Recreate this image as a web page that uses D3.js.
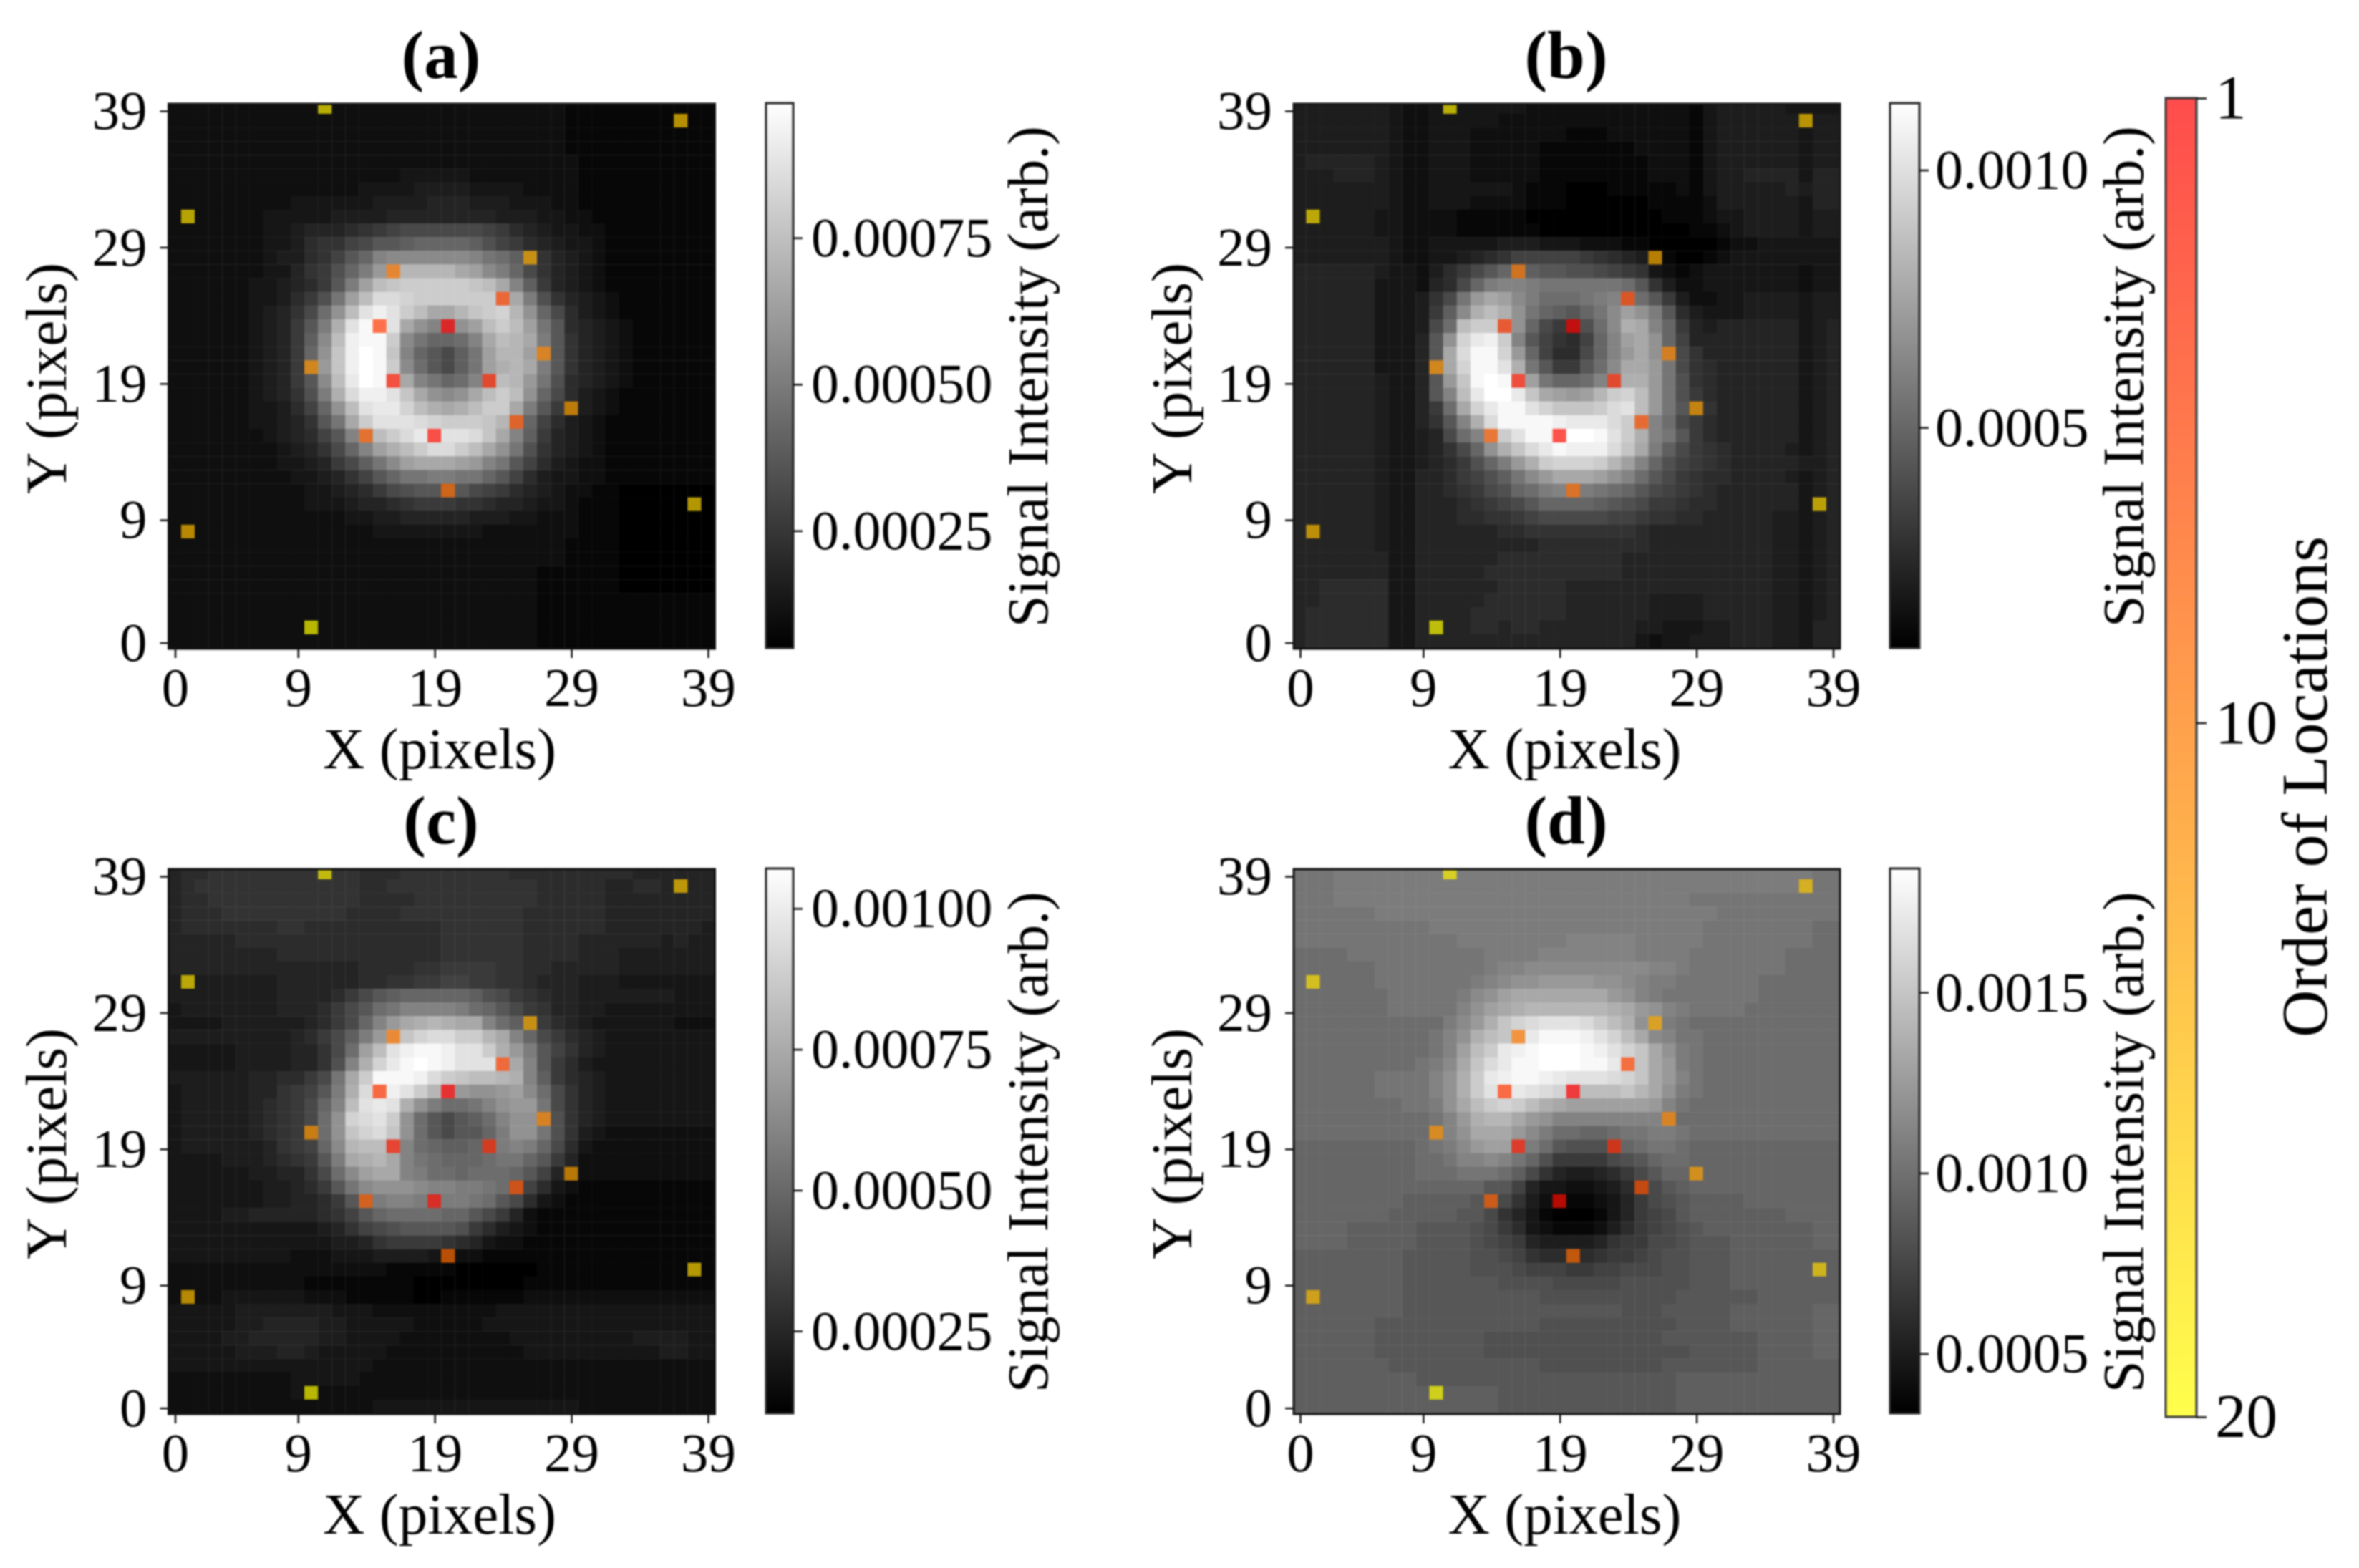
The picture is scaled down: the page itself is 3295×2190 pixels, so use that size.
<!DOCTYPE html>
<html>
<head>
<meta charset="utf-8">
<title>Signal intensity maps</title>
<script src="https://cdn.jsdelivr.net/npm/d3@7"></script>
<style>
  html, body { margin: 0; padding: 0; background: #fff; }
  svg { display: block; filter: blur(0.8px); }
</style>
</head>
<body>
<div id="chart"></div>
<script>
// Grey maps, one string per row, top row (39) first.
// Each character is a base 36 level between the panel's colour min and max.
let gridA = [
"2222222222 2222222222 2222222221 1111111111",
"2222222222 2222222222 2222222221 1111111111",
"2222222222 2222222222 2222222221 1111111111",
"2222222222 2222222222 2222222221 1111111111",
"2222222222 2222222222 2222222222 1111111111",
"2222222222 2222222333 3322222222 1111111111",
"2222222222 2222333344 4433332222 1111111111",
"2222222223 3333344445 5544433322 1111111111",
"2222222333 3344445555 5555444332 2111111111",
"2222222334 5556789aaa aaa9865433 2211111111",
"2222222334 6779accdee eedb986543 3211111111",
"2222222344 679ceijjjj jjigfda754 3211111111",
"2222222335 78behlnppp pnmjhea754 3211111111",
"2222223345 68chmqrsss ssrqnid854 3211111111",
"2222223346 8bgmquutss ssssqnhb75 4321111111",
"2222223457 afkqvxvsqn nprstpkea6 4321111111",
"2222223458 chovyyvnki ikmqsqmgc6 5432111111",
"2222223458 djqxyysjge efinqpnhc7 5432111111",
"2222223458 ekrxzyriec adgmppmhc7 5432111111",
"2222223458 elrxzysjfc adgmopnhc7 5432111111",
"2222223458 cjqwzytnig efilqplgb6 5432111111",
"2222223457 bhouxxvrnk jknqsqkea6 4321111111",
"2222223346 9ekqvwwtqo noqssnhc85 4321111111",
"2222223345 7cgnsvvvut sssrpke964 3211111111",
"2222222345 69cimqsuww vvurnid854 3211111111",
"2222222234 57aeimoqsu usqnkgb754 3211111111",
"2222222233 458adgjmnn nmligc9643 2211111111",
"2222222223 34579ceggh hggec96433 2211111111",
"2222222222 334568abcc cca9865432 2110000000",
"2222222222 3334556788 8776554332 1110000000",
"2222222222 2223344555 5544433222 1110000000",
"2222222222 2222233333 3332222222 1110000000",
"2222222222 2222222222 2222222221 1110000000",
"2222222222 2222222222 2222222221 1110000000",
"2222222222 2222222222 2222222111 1110000000",
"2222222222 2222222222 2222222111 1110000000",
"2222222222 2222222222 2222222111 1111111111",
"2222222222 2222222222 2222222111 1111111111",
"2222222222 2222222222 2222222111 1111111111",
"2222222222 2222222222 2222222111 1111111111"
];

let gridB = [
"4444444322 3333333222 2222222221 3444443333",
"4444444322 3333322222 2222222221 3444444344",
"4444444322 3332222222 1112222221 3444444344",
"4444444322 3332222211 1111122221 3444444344",
"4555554322 3332222211 1111112221 3444444344",
"4445554322 3332222211 1111112221 3445555355",
"4444444322 3333332111 0001111121 3444445455",
"4444444322 3332222111 0000001111 2444444355",
"4444443322 2211111000 0000000111 2334444344",
"4444443322 2211111100 0000000001 1234444344",
"4444444322 3333344433 3222110000 0122333333",
"4444444322 3345679999 9876542100 1233333333",
"5555554332 468aceedcc bba9873212 3333333233",
"5555553332 56aehiihgg ggggfc7422 3333333233",
"5555553334 7aglnmjhff fghiifc842 2334444344",
"5555553334 8djoqokged cegjmkhc64 3334444344",
"5555553334 afqssokea8 7bfjonie85 4555555345",
"5555553335 cktwxsic97 69eimnke95 5555555345",
"5555553335 cnuyytle96 6aeilnkfa7 5555555345",
"5555553335 entyyvogc8 8cfjnnlga7 6555555345",
"5555554335 clryzyrmge efiloolgb7 6555555345",
"5555554335 ciqwzzwrnm lmpstqlgb8 6555555345",
"5555554335 8fntwyyvtr rrsuvqlgc8 7555555345",
"5555554335 7ciouyyyyx wwwusnifa8 6555555345",
"5555554334 5afipsvyyy zzyvsoigc8 6555555345",
"5555554334 57aekoruwy xxxurnhda8 7655554345",
"5555554334 568behlost ttspmieb98 7655555445",
"5555554335 5689bdgjln nnmkifca87 6655554345",
"5555554335 5678abefhi ihgfeca987 6555555345",
"5555554335 556789acee eedcba8876 6555555345",
"5555554335 55667789aa aaa9987766 5555544345",
"5555554335 5555566777 7777765555 5555544345",
"5555554335 5555555566 6666665555 5555544345",
"5555555335 5555566666 6666555555 5555544345",
"5555555335 5555666666 6666555555 5555544345",
"5566666335 5555566666 5555555555 5555544345",
"5566666335 5555666666 5555554444 5555544345",
"5666666335 5556666666 5555554444 5555544345",
"5666666335 5556656655 5555544333 4455544355",
"5666666335 5555555555 5555532334 4455544355"
];

let gridC = [
"5667777777 7777666777 7777766666 6666555555",
"5677777777 7777667777 7777777666 6655665555",
"5667777777 7777666677 7777777666 6655555555",
"5666777777 7776666777 7777776666 6655555555",
"5666666677 6666666666 7777776666 6655555554",
"5555566666 6666666666 7777776666 5555554544",
"5555555566 6666666666 7777776666 5554444444",
"5555555555 5555666677 8888776655 5554444444",
"4444444455 5555667788 9988776555 4443333333",
"4444444455 5568acdeee eedba87655 4444444333",
"3444444455 568acfgiii ihfeca8755 4433333333",
"3333444444 568aeilnop onnifda865 4333333222",
"4444444445 68adhlprtu usspniea86 5433333333",
"3333344445 57afmqvxyy xvvsolhc97 5433333333",
"3333344445 57biotwyzy xvvvrnic86 4333333333",
"4444445566 8agnsyyyxu srqqpoid86 5433333333",
"3444445578 9chouvxvsp nlkklmjfa7 5433333333",
"3444445678 aeiqvwvokh ffgikllga7 5433333333",
"3444445678 afktuvskfc acdfikkgb7 5433333333",
"3444445678 afkrturkfc accehkkgb7 4322222222",
"3444444578 9ejpqqnife ddefhihea6 3222222222",
"3333444567 8chnopnigf eeefggec85 2222222222",
"3333334455 7afjmnnihf fefffec953 2222222222",
"3333333445 68cgjkkkji ihhgfc9632 1111111111",
"3333333445 568cfhiihh hhgfca6321 1111111111",
"3333445555 5679ceffff eeca852111 1111111111",
"3333333333 34579abccc cb86432111 1111111111",
"3333333333 3344578888 7653221111 1111111111",
"3333333332 2233344443 2221111111 1111111111",
"2222222222 2222221111 1000000111 1111111111",
"2222222222 1111111100 0000001111 1111111111",
"2222333333 2221111100 1111112222 2222222222",
"3333344444 4433322222 2222333333 3333333333",
"3333344555 5443333322 2223333333 3333333333",
"3333445555 5443333222 2222233333 3333444433",
"3333344455 4333332222 2222223333 3333334433",
"3333333333 3333322222 2222222222 2222222222",
"2222222223 3333222222 2222222222 2222222222",
"2222222223 2222222222 2222222222 2222222222",
"2222222222 2222233333 3333333333 2222222222"
];

let gridD = [
"ggghhhhhhh hhhhhhhhhh hhhhhhhhhh hhhhhhhhgg",
"ggghhhhhhh hhhhhhhhhh hhhhhhhhhh hhhhhhhggg",
"ggghhhhhhh hhhhhhhhhh hhhhhhhhhg gggggggggg",
"gggggghhhh hhhhhhhhhh hhhhhhhhhh hggggggggg",
"gggggggggg hhhhhhhhhh hhhhhhhhhh ggggggggff",
"gggggggggg gghhhhhhhh iiiiihhhhh ggggggggff",
"ffffgggggg gggghhhhii iiiiihhhhg ggggggffff",
"ffffffgggg gggghiijjj jjjjjjiihg ggggggffff",
"ffffffgggg ggghijkkll llkkjihhgg ggggffffff",
"fffffffggg gghjkmnnnn nnnlkihggg ggggffffff",
"fffffffggg ggikmnoppp ppponlkihg gggfffffff",
"ffffffffff fhjlortuvv vusqokihgf ffffffffff",
"ffffffffff gikoqrtwyy yxvtqnjigg ffffffffff",
"ffffffffff gimqswxyzz zyxvtrnkhg ffffffffff",
"fffffffffg hjnruwyyzz zyywurnlhg ffffffffff",
"ffffffgggg ikoswxyyxw vvvutrnlig ffffffffff",
"ffffffgggg ikosvwwvut rqqqrpnkhg ffffffffff",
"ffffffffgg hknqstsqon mmmmmmligf ffffffffff",
"ffffffffff giloppnlki iiiiiiihff ffffffffff",
"ffffffffff giknnnljhf feefgghhgf ffffffffff",
"eeeeeeeeef ghjlmmjhfc bbbcefggfe eeeeeeeeee",
"eeeeeeeeef fgiijigeb8 888abceffe eeeeeeeeee",
"eeeeeeeeef ffgggfda75 44568aceee eeeeeeeeee",
"eeeeeeeeee eeeecc9533 223468acde eeeeeeeeee",
"eeeeeeeedd dddcca7421 112358abcd dddeeeeeee",
"eeeeeeeddd ddcca75310 0013589acd ddddddeeee",
"eeeedddddc cccba86321 1124689abc ddddddddee",
"eeeedddddc cccba98544 445788aabc ccddddddee",
"ddddddddcc cccbba9766 667889abbc ccdddddddd",
"ddddddddcc cccbbba999 8899aaabbc ccdddddddd",
"ddddddddcc cccccbbbba aaaabbbbbc ccdddddddd",
"ddddddddcc ccccccccbb bbbbbbbbcc ccccdddddd",
"ddddddddcc cccccccccc ccccbbbccc ccddddddee",
"ddddddcccc ccccccccbb bbbbbbbbcc ccddddddee",
"ddddddcccc ccccbbbbbb bbbbbbbccc ccccddddee",
"ddddddcccc ccccbbbbbb bbbbbbbbbc ccccddddee",
"dddddddccc ccccccccbb bbbbbbbccc ccccdddddd",
"dddddddddc cccccccccc ccccccccdd dddddddddd",
"dddddddddd dddddccccc ccccccccdd dddddddddd",
"dddddddddd dddddccccc ccccccccdd dddddddddd"
];

// Panel titles and colour ranges
let panelNames = ["(a)", "(b)", "(c)", "(d)"];
let colorMin = [0.00005, 0.000072, 0.000104, 0.000335];
let colorMax = [0.00098, 0.00113, 0.001071, 0.001843];
let colorTicks = [
    [0.00025, 0.0005, 0.00075],
    [0.0005, 0.001],
    [0.00025, 0.0005, 0.00075, 0.001],
    [0.0005, 0.001, 0.0015]
];
let colorTickFormats = [".5f", ".4f", ".5f", ".4f"];

// Scanned locations, in visiting order (same for all panels)
let locationCol = [20, 19, 16, 23, 15, 24, 25, 14, 20, 16, 27, 10, 29, 26, 1, 37, 38, 1, 11, 10];
let locationRow = [23, 15, 19, 19, 23, 25, 16, 15, 11, 27, 21, 20, 17, 28, 8, 38, 10, 31, 39, 1];

let axisTicks = [0, 9, 19, 29, 39];
let orderTicks = [1, 10, 20];

//*************************************************************************************
//PAGE AND SHARED SCALES

let fontName = "'Liberation Serif', 'Times New Roman', serif";

let svg = d3.select("#chart").append("svg")
    .attr("width", 3295)
    .attr("height", 2190);

let defs = svg.append("defs");

let plotW = 763;
let plotH = 761;
let plotLeft = [235.5, 1807, 235.5, 1807];
let plotTop = [145, 145, 1214, 1214];

let barLeft = [1070, 2640, 1070, 2640];
let barWidth = [38, 41, 38, 41];
let barPad = [12, 9, 12, 9];
let barLabelX = [1463, 2993, 1463, 2993];

// Cells run a little past the frame at the top, so they get their own scales
let cellX = d3.scaleLinear().domain([-0.5, 39.5]).range([-1.7, 763.1]);
let cellY = d3.scaleLinear().domain([-0.5, 39.5]).range([760, -5.2]);

let tickX = d3.scaleLinear().domain([0, 39]).range([9, 753.5]);
let tickY = d3.scaleLinear().domain([0, 39]).range([752.6, 10]);

let orderColor = d3.scaleLinear().domain([1, 20]).range(["#ff0000", "#ffff00"]);

function styleAxis(g, size) {
    g.select(".domain").remove();
    g.selectAll("line").attr("stroke", "#111").attr("stroke-width", 2.5);
    g.selectAll("text")
        .attr("fill", "#000")
        .attr("font-family", fontName)
        .attr("font-size", size);
}

//*************************************************************************************
//THE FOUR HEATMAPS

let grids = [gridA, gridB, gridC, gridD];

grids.forEach(function (grid, p) {

    let g = svg.append("g")
        .attr("transform", "translate(" + plotLeft[p] + "," + plotTop[p] + ")");

    let color = d3.scaleLinear()
        .domain([colorMin[p], colorMax[p]])
        .range(["#000000", "#ffffff"]);

    // Turn the level strings into cell values
    let cells = [];
    grid.forEach(function (line, i) {
        let chars = line.replace(/ /g, "");
        for (let c = 0; c < chars.length; c++) {
            let level = parseInt(chars[c], 36) / 35;
            cells.push({
                col: c,
                row: 39 - i,
                value: colorMin[p] + level * (colorMax[p] - colorMin[p])
            });
        }
    });

    defs.append("clipPath").attr("id", "clip" + p)
        .append("rect").attr("width", plotW).attr("height", plotH);

    let image = g.append("g").attr("clip-path", "url(#clip" + p + ")");

    image.selectAll(".cell")
        .data(cells)
        .enter()
        .append("rect")
        .attr("class", "cell")
        .attr("x", function (d) { return cellX(d.col - 0.5); })
        .attr("y", function (d) { return cellY(d.row + 0.5); })
        .attr("width", cellX(1) - cellX(0) + 0.4)
        .attr("height", cellY(0) - cellY(1) + 0.4)
        .attr("fill", function (d) { return color(d.value); });

    image.selectAll(".location")
        .data(locationCol)
        .enter()
        .append("rect")
        .attr("class", "location")
        .attr("x", function (d) { return cellX(d - 0.5); })
        .attr("y", function (d, i) { return cellY(locationRow[i] + 0.5); })
        .attr("width", cellX(1) - cellX(0))
        .attr("height", cellY(0) - cellY(1))
        .attr("fill", function (d, i) { return orderColor(i + 1); })
        .attr("fill-opacity", 0.7);

    g.append("rect")
        .attr("width", plotW)
        .attr("height", plotH)
        .attr("fill", "none")
        .attr("stroke", "#111")
        .attr("stroke-width", 3);

    // Axes
    g.append("g")
        .attr("transform", "translate(0," + plotH + ")")
        .call(d3.axisBottom(tickX).tickValues(axisTicks).tickSize(13).tickPadding(12).tickFormat(d3.format("d")))
        .call(styleAxis, 77);

    g.append("g")
        .call(d3.axisLeft(tickY).tickValues(axisTicks).tickSize(12).tickPadding(18).tickFormat(d3.format("d")))
        .call(styleAxis, 77);

    g.append("text")
        .attr("x", plotW / 2 - 3)
        .attr("y", 928)
        .attr("text-anchor", "middle")
        .attr("font-family", fontName)
        .attr("font-size", 81)
        .text("X (pixels)");

    g.append("text")
        .attr("transform", "translate(" + (92 - 235.5) + "," + (plotH / 2 + 3) + ") rotate(-90)")
        .attr("text-anchor", "middle")
        .attr("font-family", fontName)
        .attr("font-size", 81)
        .text("Y (pixels)");

    g.append("text")
        .attr("x", plotW / 2 - 1)
        .attr("y", -36)
        .attr("text-anchor", "middle")
        .attr("font-family", fontName)
        .attr("font-weight", "bold")
        .attr("font-size", 95)
        .text(panelNames[p]);

    // Colorbar for this panel
    let bar = svg.append("g")
        .attr("transform", "translate(" + barLeft[p] + "," + (plotTop[p] - 1) + ")");

    let barScale = d3.scaleLinear()
        .domain([colorMin[p], colorMax[p]])
        .range([plotH, 0]);

    let grad = defs.append("linearGradient")
        .attr("id", "bar" + p)
        .attr("x1", 0).attr("y1", 1).attr("x2", 0).attr("y2", 0);
    grad.append("stop").attr("offset", 0).attr("stop-color", color(colorMin[p]));
    grad.append("stop").attr("offset", 1).attr("stop-color", color(colorMax[p]));

    bar.append("rect")
        .attr("width", barWidth[p])
        .attr("height", plotH)
        .attr("fill", "url(#bar" + p + ")")
        .attr("stroke", "#222")
        .attr("stroke-width", 3);

    bar.append("g")
        .attr("transform", "translate(" + barWidth[p] + ",0)")
        .call(d3.axisRight(barScale)
            .tickValues(colorTicks[p])
            .tickSize(13)
            .tickPadding(barPad[p])
            .tickFormat(d3.format(colorTickFormats[p])))
        .call(styleAxis, 78);

    svg.append("text")
        .attr("transform", "translate(" + barLabelX[p] + "," + (plotTop[p] + 381) + ") rotate(-90)")
        .attr("text-anchor", "middle")
        .attr("font-family", fontName)
        .attr("font-size", 80)
        .text("Signal Intensity (arb.)");
});

//*************************************************************************************
//ORDER OF LOCATIONS COLORBAR

let orderScale = d3.scaleLinear().domain([1, 20]).range([137, 1979]);

let orderGrad = defs.append("linearGradient")
    .attr("id", "orderBar")
    .attr("x1", 0).attr("y1", 0).attr("x2", 0).attr("y2", 1);
orderGrad.append("stop").attr("offset", 0).attr("stop-color", orderColor(1));
orderGrad.append("stop").attr("offset", 1).attr("stop-color", orderColor(20));

svg.append("rect")
    .attr("x", 3025)
    .attr("y", orderScale(1))
    .attr("width", 43)
    .attr("height", orderScale(20) - orderScale(1))
    .attr("fill", "url(#orderBar)")
    .attr("fill-opacity", 0.7)
    .attr("stroke", "#333")
    .attr("stroke-width", 3);

svg.append("g")
    .attr("transform", "translate(3068,0)")
    .call(d3.axisRight(orderScale).tickValues(orderTicks).tickSize(14).tickPadding(12).tickFormat(d3.format("d")))
    .call(styleAxis, 87);

svg.append("text")
    .attr("transform", "translate(3250,1099) rotate(-90)")
    .attr("text-anchor", "middle")
    .attr("font-family", fontName)
    .attr("font-size", 92)
    .text("Order of Locations");
</script>
</body>
</html>
